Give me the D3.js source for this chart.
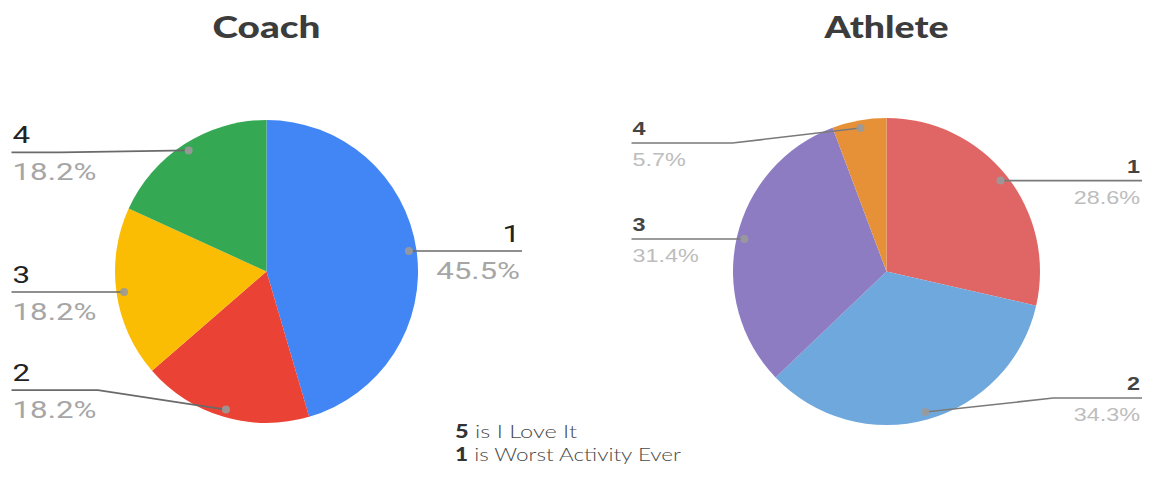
<!DOCTYPE html>
<html>
<head>
<meta charset="utf-8">
<script src="https://cdn.jsdelivr.net/npm/d3@7"></script>
<style>
  html, body { margin: 0; padding: 0; background: #fff; }
  svg { display: block; }
</style>
</head>
<body>
<svg id="chart" width="1149" height="478"></svg>
<script>
// Survey ratings (1 = worst, 5 = love it), counts of responses per rating
const categories = ["1", "2", "3", "4"];
const coachValues = [5, 2, 2, 2];
const athleteValues = [10, 12, 11, 2];
const chartTitles = ["Coach", "Athlete"];
const legendLines = [["5", " is I Love It"], ["1", " is Worst Activity Ever"]];

const coachColors = ["#4285f4", "#ea4335", "#fbbc04", "#34a853"];
const athleteColors = ["#e06666", "#6fa8dc", "#8e7cc3", "#e69138"];

const svg = d3.select("#chart");

const panels = [
  {
    title: chartTitles[0], values: coachValues, colors: coachColors,
    cx: 266.5, cy: 271.5, r: 151.5, titleWidth: 108,
    lineShift: [0, -19.5, 0, 2],
    font: "Roboto, 'Liberation Sans', sans-serif", fontSize: 23, numWeight: 400, pctWeight: 400, stretch: 1.36,
    numColor: "#222", pctColor: "#a6a6a6", lineColor: "#6a6a6a",
    numGap: 9, pctGap: 28
  },
  {
    title: chartTitles[1], values: athleteValues, colors: athleteColors,
    cx: 886.5, cy: 271.5, r: 153.5, titleWidth: 124,
    lineShift: [0, -14, 0, 15],
    font: "'Liberation Sans', Arial, sans-serif", fontSize: 18, numWeight: 700, pctWeight: 400, stretch: 1.3,
    numColor: "#444", pctColor: "#bdbdbd", lineColor: "#7a7a7a",
    numGap: 8, pctGap: 23
  }
];

const pie = d3.pie().sort(null).value(d => d);

panels.forEach(p => {
  const g = svg.append("g");
  const total = d3.sum(p.values);
  const arcs = pie(p.values);
  const arc = d3.arc().innerRadius(0).outerRadius(p.r);
  const dotArc = d3.arc().innerRadius(p.r * 0.95).outerRadius(p.r * 0.95);

  // title
  g.append("text")
    .attr("x", p.cx).attr("y", 38)
    .attr("text-anchor", "middle")
    .attr("font-family", "Lato, 'Open Sans', sans-serif")
    .attr("font-weight", 900)
    .attr("font-size", 31)
    .attr("fill", "#3c3c3c")
    .attr("textLength", p.titleWidth)
    .attr("lengthAdjust", "spacingAndGlyphs")
    .text(p.title);

  // slices
  const pg = g.append("g").attr("transform", `translate(${p.cx},${p.cy})`);
  pg.selectAll("path")
    .data(arcs)
    .join("path")
    .attr("d", arc)
    .attr("fill", (d, i) => p.colors[i]);

  // leader lines and labels
  arcs.forEach((d, i) => {
    const [dx, dy] = dotArc.centroid(d);
    const px = p.cx + dx, py = p.cy + dy;
    const mid = (d.startAngle + d.endAngle) / 2;
    const right = mid < Math.PI;
    const lineY = py + p.lineShift[i];
    const endX = right ? p.cx + 255.5 : p.cx - 255;
    const bendX = right ? Math.min(px + 128, endX) : Math.max(px - 128, endX);

    g.append("path")
      .attr("d", d3.line()([[px, py], [bendX, lineY], [endX, lineY]]))
      .attr("fill", "none")
      .attr("stroke", p.lineColor)
      .attr("stroke-width", 1.6);

    g.append("circle")
      .attr("cx", px).attr("cy", py).attr("r", 4)
      .attr("fill", "#9a9a9a").attr("opacity", 0.9);

    const tx = right ? endX - 2 : endX + 1;
    const anchor = right ? "end" : "start";
    const pct = (100 * d.value / total).toFixed(1) + "%";

    [[categories[i], lineY - p.numGap, p.numColor, p.numWeight],
     [pct, lineY + p.pctGap, p.pctColor, p.pctWeight]]
      .forEach(([txt, y, col, w]) => {
        g.append("text")
          .attr("transform", `translate(${tx},${y}) scale(${p.stretch},1)`)
          .attr("text-anchor", anchor)
          .attr("font-family", p.font)
          .attr("font-size", p.fontSize)
          .attr("font-weight", w)
          .attr("fill", col)
          .text(txt);
      });
  });
});

// rating scale note
const note = svg.append("g");
const noteWidths = [122, 226];
legendLines.forEach((ln, i) => {
  const t = note.append("text")
    .attr("x", 455).attr("y", 438 + i * 23)
    .attr("font-family", "Lato, sans-serif")
    .attr("font-size", 18)
    .attr("fill", "#4a4a4a")
    .attr("textLength", noteWidths[i])
    .attr("lengthAdjust", "spacingAndGlyphs");
  t.append("tspan").attr("font-weight", 900).attr("fill", "#333").text(ln[0]);
  t.append("tspan").attr("font-weight", 300).text(ln[1]);
});
</script>
</body>
</html>
